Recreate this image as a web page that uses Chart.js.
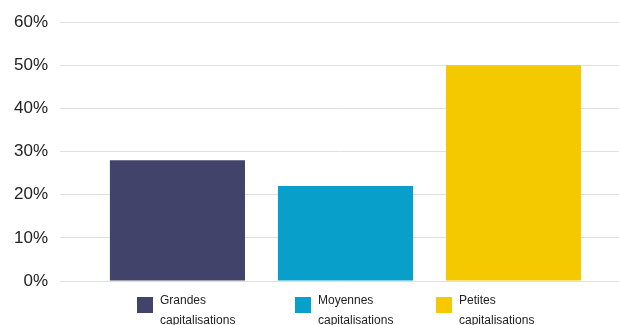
<!DOCTYPE html>
<html>
<head>
<meta charset="utf-8">
<script src="https://cdn.jsdelivr.net/npm/chart.js@4"></script>
<style>
  body { margin: 0; background: #fff; }
  #wrap { position: relative; width: 619px; height: 325px; overflow: hidden; }
  #legende { position: absolute; top: 290px; left: 0; width: 619px; font-family: "Liberation Sans", Arial, sans-serif; font-size: 12px; color: #222; }
  .item { position: absolute; top: 0; }
  .item .box { position: absolute; top: 7px; left: 0; width: 16px; height: 16px; }
  .item .txt { position: absolute; top: 0; left: 23px; line-height: 20px; white-space: nowrap; }
</style>
</head>
<body>
<div id="wrap">
  <canvas id="grafico" width="619" height="325"></canvas>
  <div id="legende"></div>
</div>
<script>
const categorias = [["Grandes", "capitalisations"], ["Moyennes", "capitalisations"], ["Petites", "capitalisations"]];
const valores = [28, 22, 50];
const cores = ["#41436b", "#08a0cb", "#f4c900"];
const ticksY = [0, 10, 20, 30, 40, 50, 60];
const legendaX = [137, 295, 436];

const grafico = new Chart(document.getElementById("grafico"), {
  type: "bar",
  data: {
    datasets: [{
      data: valores.map((v, i) => ({ x: i, y: v })),
      backgroundColor: cores,
      barPercentage: 0.804,
      categoryPercentage: 1
    }]
  },
  options: {
    responsive: false,
    animation: false,
    layout: { padding: { top: 14, bottom: 44, left: 0, right: 0 } },
    plugins: { legend: { display: false }, tooltip: { enabled: false } },
    scales: {
      x: {
        type: "linear",
        min: -0.699,
        max: 2.628,
        offset: false,
        display: false,
        afterBuildTicks: (s) => { s.ticks = valores.map((v, i) => ({ value: i })); }
      },
      y: {
        min: 0,
        max: 60,
        afterBuildTicks: (s) => { s.ticks = ticksY.map(v => ({ value: v })); },
        afterFit: (s) => { s.width = 60; },
        border: { display: false },
        grid: { color: "#e0e0e0", lineWidth: 1, drawTicks: false },
        ticks: {
          padding: 12,
          color: "#222",
          font: { family: "Liberation Sans", size: 17 },
          callback: (v) => v + "%"
        }
      }
    }
  }
});

const legende = document.getElementById("legende");
categorias.forEach((linhas, i) => {
  const item = document.createElement("div");
  item.className = "item";
  item.style.left = legendaX[i] + "px";
  item.innerHTML = `<div class="box" style="background:${cores[i]}"></div><div class="txt">${linhas.join("<br>")}</div>`;
  legende.appendChild(item);
});
</script>
</body>
</html>
